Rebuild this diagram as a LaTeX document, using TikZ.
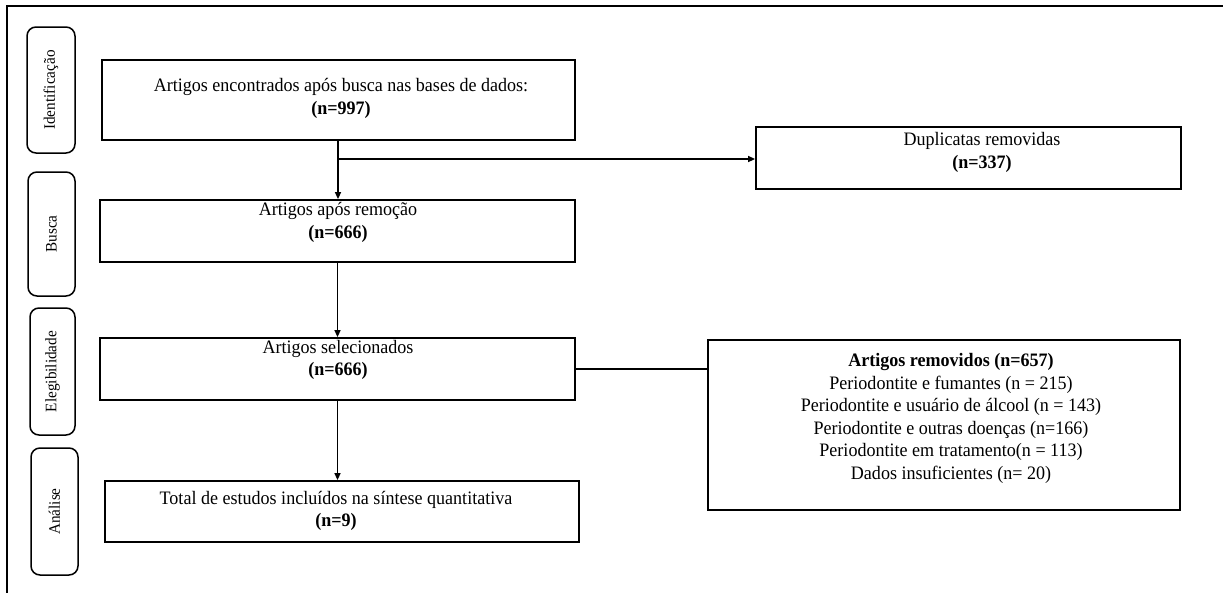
\documentclass[tikz,border=0pt]{standalone}
\usepackage{fontspec}
\setmainfont{Liberation Serif}[FakeStretch=0.95]
\usetikzlibrary{arrows.meta,calc}
\begin{document}
\begin{tikzpicture}[x=1pt,y=-1pt,
  box/.style={draw, line width=1.8pt, rectangle, inner sep=0pt},
  phase/.style={draw, line width=1.5pt, rounded corners=9pt, inner sep=0pt},
  arr/.style={-{Triangle[length=7pt,width=6pt]}, line width=1.5pt},
  conn/.style={line width=1.6pt},
  lbl/.style={font=\fontsize{19}{22.6}\selectfont, align=center, inner sep=0pt},
  plbl/.style={font=\fontsize{16}{20}\selectfont, rotate=90, inner sep=0pt}]
\useasboundingbox (0,0) rectangle (1223,592);
\draw[line width=2pt] (7,620) -- (7,6) -- (1240,6);

% phase labels
\node[phase, minimum width=48pt, minimum height=126pt] (p1) at (51,90) {};
\node[phase, minimum width=47pt, minimum height=124pt] (p2) at (51.5,234) {};
\node[phase, minimum width=45pt, minimum height=127pt] (p3) at (52.5,371.5) {};
\node[phase, minimum width=47pt, minimum height=127pt] (p4) at (54.5,511.5) {};
\node[plbl] (t1) at (p1.center) {Identificação};
\node[plbl] (t2) at (p2.center) {Busca};
\node[plbl] (t3) at (p3.center) {Elegibilidade};
\node[plbl] (t4) at (p4.center) {Análise};

% boxes
\node[box, minimum width=473pt, minimum height=80pt] (b1) at (338.5,100) {};
\node[box, minimum width=425pt, minimum height=62pt] (dup) at (968.5,158) {};
\node[box, minimum width=475pt, minimum height=62pt] (b2) at (337.5,231) {};
\node[box, minimum width=475pt, minimum height=62pt] (b3) at (337.5,369) {};
\node[box, minimum width=474pt, minimum height=61pt] (b4) at (342,511.5) {};
\node[box, minimum width=472pt, minimum height=170pt] (rem) at (944,425) {};

% texts
\node[lbl] (x1) at (341,98.5) {Artigos encontrados após busca nas bases de dados:\\\textbf{(n=997)}};
\node[lbl] (xd) at (982,152.5) {Duplicatas removidas\\\textbf{(n=337)}};
\node[lbl] (x2) at (338,222.5) {Artigos após remoção\\\textbf{(n=666)}};
\node[lbl] (x3) at (338,360) {Artigos selecionados\\\textbf{(n=666)}};
\node[lbl] (x4) at (336,511) {Total de estudos incluídos na síntese quantitativa\\\textbf{(n=9)}};
\node[lbl] (xr) at (951,418.5) {\textbf{Artigos removidos (n=657)}\\Periodontite e fumantes (n = 215)\\Periodontite e usuário de álcool (n = 143)\\Periodontite e outras doenças (n=166)\\Periodontite em tratamento(n = 113)\\Dados insuficientes (n= 20)};

% connectors
\coordinate (j1) at (338,159);
\draw[arr] (b1.south -| j1) -- (b2.north -| j1);
\draw[arr] (j1) -- (dup.west |- j1);
\draw[arr] (b2.south) -- (b3.north);
\draw[arr] (b3.south) -- (b3.south |- b4.north);
\draw[conn] (b3.east) -- (rem.west |- b3.east);
\end{tikzpicture}
\end{document}
